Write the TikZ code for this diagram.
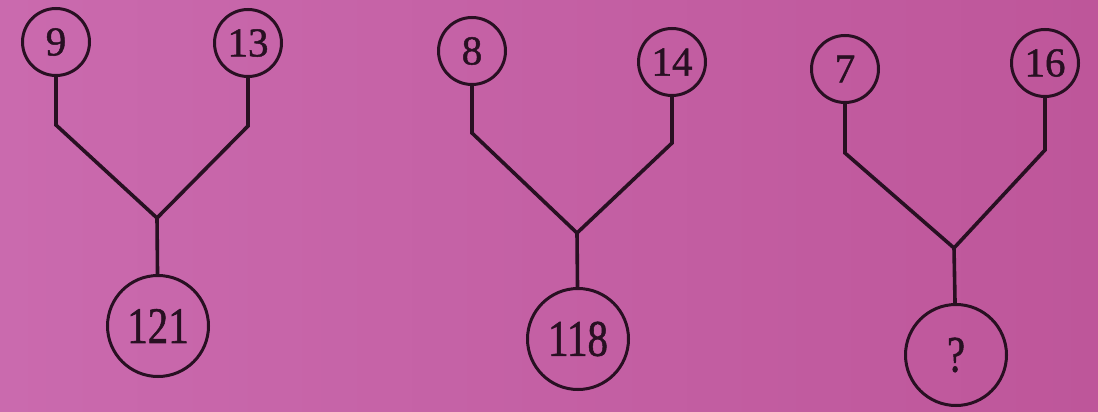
\documentclass[tikz,border=0pt]{standalone}
\usepackage{fontspec}
\setmainfont{Liberation Serif}
\newfontfamily\numfont[FakeBold=1.2]{Liberation Serif}
\definecolor{bgL}{RGB}{202,106,174}
\definecolor{bgR}{RGB}{190,86,154}
\definecolor{ink}{RGB}{40,16,34}
\tikzset{
  leaf/.style={circle,draw=ink,line width=3pt,minimum size=67pt,inner sep=0pt,text=ink,font=\numfont\fontsize{41}{41}\selectfont},
  root/.style={circle,draw=ink,line width=3pt,minimum size=101pt,inner sep=0pt,text=ink,font=\numfont\fontsize{41}{41}\selectfont},
  branch/.style={draw=ink,line width=3.6pt,line join=miter}
}
\newcommand{\tallnum}[1]{\scalebox{1}[1.25]{#1}}
\begin{document}
\begin{tikzpicture}[x=1pt,y=-1pt]
\shade[left color=bgL,right color=bgR] (0,0) rectangle (1098,412);
\useasboundingbox (0,0) rectangle (1098,412);
% tree 1
\node[leaf] (a1) at (56,42) {9};
\node[leaf] (b1) at (248,43) {13};
\coordinate (la1) at (56,125);
\coordinate (lb1) at (248,126);
\coordinate (j1) at (157,218);
\node[root] (c1) at (158,326) {\tallnum{121}};
\draw[branch] (a1) -- (la1) -- (j1) -- (lb1) -- (b1);
\draw[branch] (j1) -- (c1);
% tree 2
\node[leaf] (a2) at (472,51) {8};
\node[leaf] (b2) at (672,62) {14};
\coordinate (la2) at (472,133);
\coordinate (lb2) at (672,143);
\coordinate (j2) at (577,233);
\node[root] (c2) at (578,339) {\tallnum{118}};
\draw[branch] (a2) -- (la2) -- (j2) -- (lb2) -- (b2);
\draw[branch] (j2) -- (c2);
% tree 3
\node[leaf] (a3) at (845,69) {7};
\node[leaf] (b3) at (1045,63) {16};
\coordinate (la3) at (845,153);
\coordinate (lb3) at (1045,150);
\coordinate (j3) at (954,248);
\node[root] (c3) at (956,355) {\tallnum{?}};
\draw[branch] (a3) -- (la3) -- (j3) -- (lb3) -- (b3);
\draw[branch] (j3) -- (c3);
\end{tikzpicture}
\end{document}
